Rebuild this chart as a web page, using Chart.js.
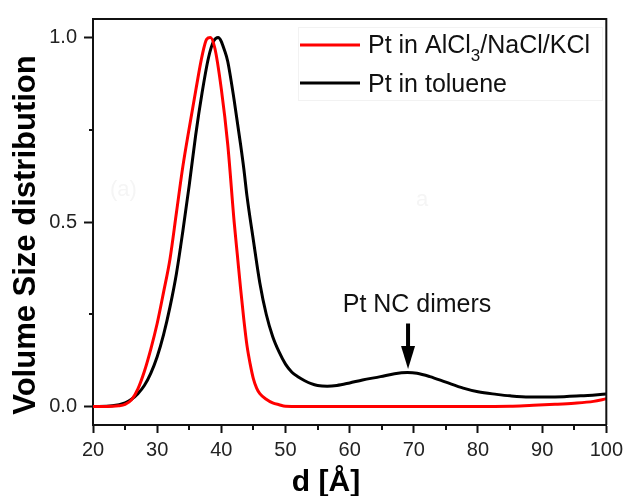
<!DOCTYPE html>
<html>
<head>
<meta charset="utf-8">
<script src="https://cdn.jsdelivr.net/npm/chart.js@4/dist/chart.umd.min.js"></script>
<style>
  body { margin: 0; background: #fff; }
</style>
</head>
<body>
<canvas id="myChart" width="628" height="496"></canvas>
<script>
// particle size d [Å] and volume distribution
const dRed = [20, 22, 24, 25, 26, 27, 28, 29, 30, 31, 32, 33, 34, 35, 36, 37, 37.7, 38.3, 39, 40, 41, 42, 42.5, 43, 43.5, 44, 44.5, 45, 45.5, 46, 47, 48, 49, 50, 55, 60, 70, 80, 85, 88, 92, 95, 98, 100];
const vRed = [0, 0, 0.002, 0.006, 0.018, 0.048, 0.095, 0.155, 0.225, 0.31, 0.4, 0.525, 0.65, 0.755, 0.855, 0.95, 0.995, 1.0, 0.97, 0.86, 0.71, 0.5, 0.41, 0.32, 0.237, 0.165, 0.115, 0.075, 0.05, 0.035, 0.02, 0.01, 0.005, 0.001, 0, 0, 0, 0, 0.001, 0.003, 0.006, 0.009, 0.014, 0.021];

const dBlack = [20, 23, 25, 26, 27, 28, 29, 30, 31, 32, 33, 34, 35, 36, 37, 38, 38.8, 39.5, 40.6, 41, 42, 43, 43.5, 44, 45, 46, 47, 48, 49, 50, 51, 52, 53, 54, 55, 56.5, 58, 60, 62, 64.8, 67, 69, 70.5, 72.5, 75, 77.7, 80, 82.9, 85, 88, 92, 96, 100];
const vBlack = [0, 0.002, 0.01, 0.02, 0.035, 0.057, 0.09, 0.135, 0.195, 0.27, 0.36, 0.475, 0.6, 0.735, 0.85, 0.945, 0.99, 1.0, 0.96, 0.935, 0.83, 0.71, 0.645, 0.57, 0.45, 0.335, 0.25, 0.19, 0.148, 0.115, 0.093, 0.08, 0.07, 0.062, 0.057, 0.055, 0.057, 0.064, 0.072, 0.081, 0.089, 0.092, 0.09, 0.081, 0.066, 0.05, 0.04, 0.033, 0.029, 0.026, 0.026, 0.029, 0.034];

const seriesNames = ["Pt in AlCl3/NaCl/KCl", "Pt in toluene"];
const xTicks = [20, 30, 40, 50, 60, 70, 80, 90, 100];
const yTicks = [0, 0.5, 1.0];
const dimerPeak = { x: 69.1, label: "Pt NC dimers" };

const FONT = "'Liberation Sans', Arial, sans-serif";
const chart = document.getElementById("myChart");

const toPoints = (xs, ys) => xs.map((x, i) => ({ x: x, y: ys[i] }));
const isMajorX = (v) => xTicks.includes(v);
const isMajorY = (v) => yTicks.some((t) => Math.abs(t - v) < 1e-6);

// short minor ticks + top/right frame
const framePlugin = {
  id: "frame",
  afterDraw(c) {
    const ctx = c.ctx;
    const a = c.chartArea;
    ctx.save();
    ctx.strokeStyle = "#111";
    ctx.lineWidth = 2;
    ctx.beginPath();
    ctx.moveTo(a.left, a.top);
    ctx.lineTo(a.right, a.top);
    ctx.lineTo(a.right, a.bottom);
    ctx.stroke();

    const xs = c.scales.x, ys = c.scales.y;
    xs.ticks.forEach((t) => {
      if (isMajorX(t.value)) return;
      const px = Math.round(xs.getPixelForValue(t.value));
      ctx.beginPath();
      ctx.moveTo(px, a.bottom);
      ctx.lineTo(px, a.bottom + 5);
      ctx.stroke();
    });
    ys.ticks.forEach((t) => {
      if (isMajorY(t.value)) return;
      const py = Math.round(ys.getPixelForValue(t.value));
      ctx.beginPath();
      ctx.moveTo(a.left, py);
      ctx.lineTo(a.left - 4, py);
      ctx.stroke();
    });
    ctx.restore();
  },
};

// legend, annotation and axis titles
const textPlugin = {
  id: "texts",
  afterDraw(c) {
    const ctx = c.ctx;
    const xs = c.scales.x, ys = c.scales.y;
    ctx.save();

    // faint leftovers in the original figure
    ctx.fillStyle = "#f5f5f5";
    ctx.font = "22px " + FONT;
    ctx.fillText("(a)", 110, 196);
    ctx.fillText("a", 416, 206);

    // legend box
    ctx.strokeStyle = "#f2f2f2";
    ctx.lineWidth = 1;
    ctx.strokeRect(298.5, 27.5, 304, 73);

    ctx.lineWidth = 3;
    ctx.strokeStyle = "#ff0000";
    ctx.beginPath(); ctx.moveTo(300, 45); ctx.lineTo(360, 45); ctx.stroke();
    ctx.strokeStyle = "#000";
    ctx.beginPath(); ctx.moveTo(300, 83); ctx.lineTo(360, 83); ctx.stroke();

    ctx.fillStyle = "#111";
    ctx.textAlign = "left";
    ctx.textBaseline = "alphabetic";
    ctx.font = "25px " + FONT;
    let x = 368;
    const parts = seriesNames[0].split("3");
    ctx.fillText(parts[0], x, 53);
    x += ctx.measureText(parts[0]).width;
    ctx.font = "17px " + FONT;
    ctx.fillText("3", x, 61);
    x += ctx.measureText("3").width;
    ctx.font = "25px " + FONT;
    ctx.fillText(parts[1], x, 53);
    ctx.fillText(seriesNames[1], 368, 92);

    // dimer annotation
    const ax = xs.getPixelForValue(dimerPeak.x);
    ctx.font = "25px " + FONT;
    ctx.textAlign = "center";
    ctx.fillText(dimerPeak.label, xs.getPixelForValue(70.5), ys.getPixelForValue(0.255));
    const top = ys.getPixelForValue(0.225), tip = ys.getPixelForValue(0.102);
    ctx.fillStyle = "#000";
    ctx.fillRect(ax - 2, top, 4, tip - top - 20);
    ctx.beginPath();
    ctx.moveTo(ax - 7, tip - 23);
    ctx.lineTo(ax + 7, tip - 23);
    ctx.lineTo(ax, tip);
    ctx.closePath();
    ctx.fill();

    // axis titles
    ctx.fillStyle = "#000";
    ctx.font = "bold 30px " + FONT;
    ctx.textAlign = "center";
    ctx.fillText("d [Å]", 326, 491);
    ctx.translate(35, 235);
    ctx.rotate(-Math.PI / 2);
    ctx.font = "bold 31px " + FONT;
    ctx.fillText("Volume Size distribution", 0, 0);
    ctx.restore();
  },
};

new Chart(chart, {
  type: "line",
  data: {
    datasets: [
      {
        label: seriesNames[0],
        data: toPoints(dRed, vRed),
        borderColor: "#ff0000",
        borderWidth: 3,
        pointRadius: 0,
        cubicInterpolationMode: "monotone",
      },
      {
        label: seriesNames[1],
        data: toPoints(dBlack, vBlack),
        borderColor: "#000000",
        borderWidth: 3,
        pointRadius: 0,
        cubicInterpolationMode: "monotone",
      },
    ],
  },
  options: {
    responsive: false,
    animation: false,
    layout: { padding: { top: 11, right: 17, left: 0, bottom: 0 } },
    scales: {
      x: {
        type: "linear",
        min: 20,
        max: 100,
        afterFit: (s) => { s.height = 71; },
        ticks: {
          stepSize: 5,
          autoSkip: false,
          maxRotation: 0,
          padding: 5,
          color: "#222",
          font: { family: FONT, size: 20 },
          callback: (v) => (isMajorX(v) ? String(v) : ""),
        },
        grid: {
          drawOnChartArea: false,
          tickLength: 8,
          tickWidth: 2,
          tickColor: (c) => (c.tick && isMajorX(c.tick.value) ? "#111" : "rgba(0,0,0,0)"),
        },
        border: { color: "#111", width: 2 },
      },
      y: {
        min: -0.05,
        max: 1.05,
        afterFit: (s) => { s.width = 93; },
        ticks: {
          stepSize: 0.25,
          includeBounds: false,
          padding: 7,
          color: "#222",
          font: { family: FONT, size: 20 },
          callback: (v) => (isMajorY(v) ? v.toFixed(1) : ""),
        },
        grid: {
          drawOnChartArea: false,
          tickLength: 9,
          tickWidth: 2,
          tickColor: (c) => (c.tick && isMajorY(c.tick.value) ? "#111" : "rgba(0,0,0,0)"),
        },
        border: { color: "#111", width: 2 },
      },
    },
    plugins: {
      legend: { display: false },
      tooltip: { enabled: false },
    },
  },
  plugins: [framePlugin, textPlugin],
});
</script>
</body>
</html>
